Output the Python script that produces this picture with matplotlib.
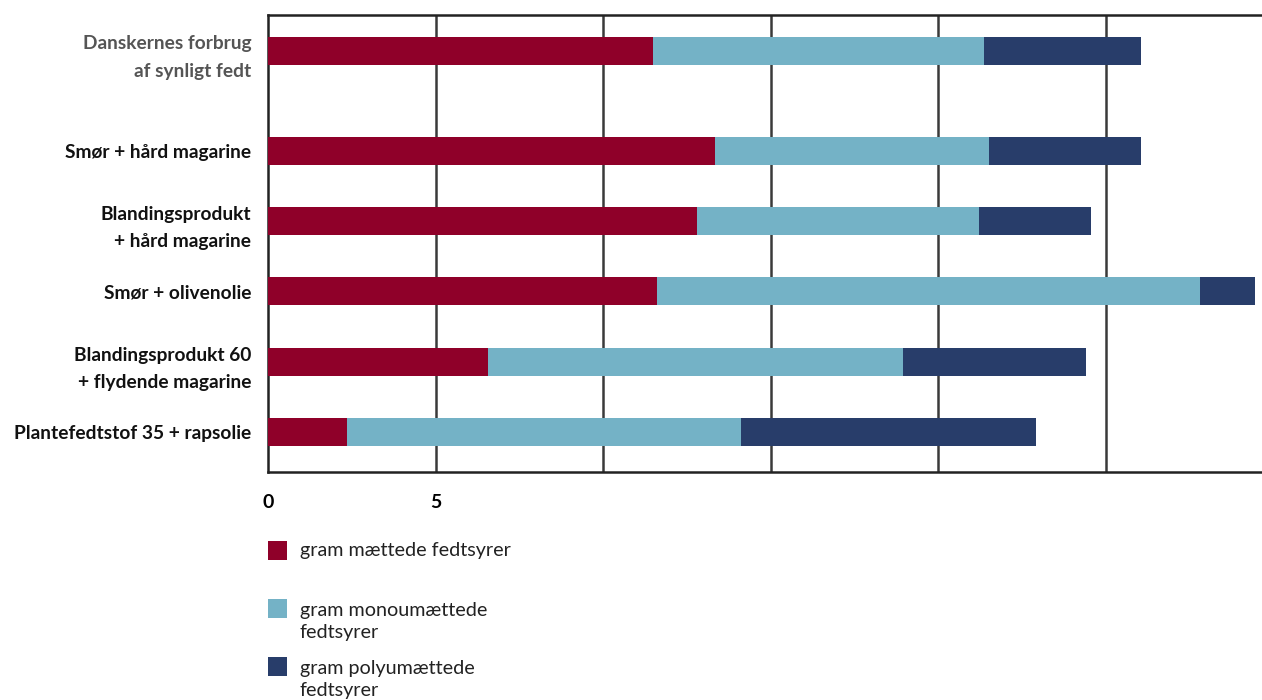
import matplotlib
matplotlib.use("Agg")
import matplotlib.pyplot as plt
from matplotlib.patches import Rectangle

categories = [
    "Danskernes forbrug\naf synligt fedt",
    "Smør + hård magarine",
    "Blandingsprodukt\n+ hård magarine",
    "Smør + olivenolie",
    "Blandingsprodukt 60\n+ flydende magarine",
    "Plantefedtstof 35 + rapsolie",
]
maettede = [11.5, 13.35, 12.8, 11.6, 6.55, 2.35]
monoumaettede = [9.85, 8.15, 8.4, 16.2, 12.4, 11.75]
polyumaettede = [4.7, 4.55, 3.35, 1.65, 5.45, 8.8]
series_labels = [
    "gram mættede fedtsyrer",
    "gram monoumættede\nfedtsyrer",
    "gram polyumættede\nfedtsyrer",
]
colors = ["#8f0029", "#74b2c6", "#283d6a"]
xticks = [0, 5]

plt.rcParams["font.family"] = ["Lato", "DejaVu Sans"]

fig = plt.figure(figsize=(12.62, 7.0), dpi=100)
W, H = 1262, 700
ax = fig.add_axes([268 / W, 1 - 472 / H, (W - 268) / W, (472 - 15) / H])

# row positions: first row set apart from the rest
ypos = [0, 1.42, 2.42, 3.42, 4.43, 5.42]
bar_h = 0.40

left = [0] * len(categories)
for vals, col in zip([maettede, monoumaettede, polyumaettede], colors):
    ax.barh(ypos, vals, left=left, height=bar_h, color=col, zorder=3)
    left = [l + v for l, v in zip(left, vals)]

ax.set_xlim(0, (W - 268) / 33.52)
ax.set_ylim(5.99, -0.51)

for g in [5, 10, 15, 20, 25]:
    ax.axvline(g, color="#3a3a3a", lw=1.8, zorder=1)

ax.spines["right"].set_visible(False)
for s in ["left", "top", "bottom"]:
    ax.spines[s].set_color("#222222")
    ax.spines[s].set_linewidth(1.8)

ax.set_yticks(ypos)
ax.set_yticklabels(categories, fontsize=13.8, fontweight="bold",
                   ha="right", linespacing=1.75)
for i, t in enumerate(ax.get_yticklabels()):
    t.set_color("#555555" if i == 0 else "#111111")
ax.tick_params(axis="y", length=0, pad=12)

ax.set_xticks(xticks)
ax.set_xticklabels([str(x) for x in xticks], fontsize=14, fontweight="bold")
ax.tick_params(axis="x", length=0, pad=16)

# legend (text anchored on the baseline of its last line)
legend_rows = [(541, 556), (599, 638), (657, 696)]
for (sq_top, base), lab, col in zip(legend_rows, series_labels, colors):
    fig.patches.append(Rectangle((268 / W, 1 - (sq_top + 19) / H), 19 / W, 19 / H,
                                 transform=fig.transFigure, facecolor=col,
                                 edgecolor="none"))
    fig.text(300 / W, 1 - base / H, lab, fontsize=14.2, color="#222222",
             va="baseline", linespacing=1.37)

fig.savefig("out.png", dpi=100)
